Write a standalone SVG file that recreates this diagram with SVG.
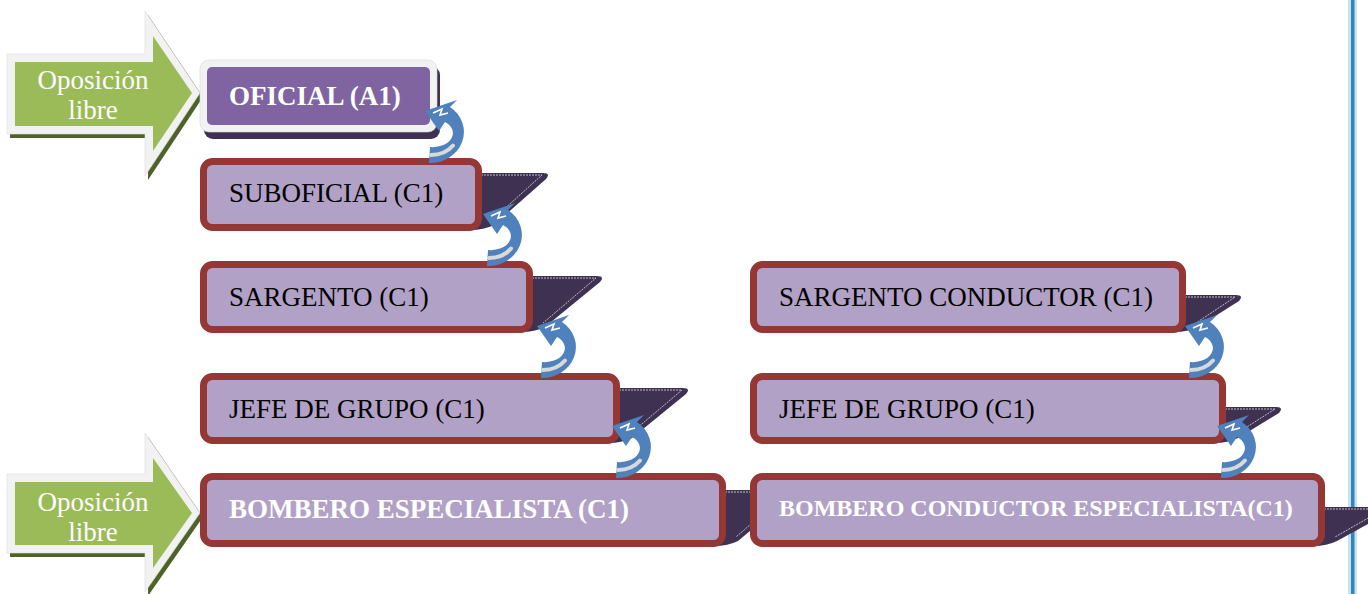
<svg xmlns="http://www.w3.org/2000/svg" xmlns:xlink="http://www.w3.org/1999/xlink" width="1368" height="594" viewBox="0 0 1368 594">
<style>
.bx{fill:#b2a1c7;stroke:#953735;stroke-width:7}
.rib{fill:#3f3151}
.ribl{fill:none;stroke:#ffffff;stroke-width:0.8;stroke-dasharray:2 1;opacity:0.85}
.t{font-family:"Liberation Serif","Times New Roman",serif;font-size:27px;fill:#000}
.tb{font-family:"Liberation Serif","Times New Roman",serif;font-size:27px;font-weight:bold;fill:#ffffff}
.ga{fill:#f2f2f2;stroke:#dcdcdc;stroke-width:0.6}
.gi{fill:#9bbb59}
.gs{fill:#4f6228}
.gt{font-family:"Liberation Serif","Times New Roman",serif;font-size:27px;fill:#ffffff;text-anchor:middle}
.curl{fill:#4f81bd}
.stripe{fill:none;stroke:#d9d9d9;stroke-width:4;stroke-linecap:round}
.hl{fill:none;stroke:#ffffff;stroke-width:1.6}
</style>
<defs>
<g id="curl">
<path class="curl" d="M 18 -26 L 25 -33 L -7 -22 L 7 -2 L 13 -11 A 20 14 0 0 1 -2 14 L -3 30 A 34 31 0 0 0 18 -26 Z"/>
<path class="stripe" d="M -1 22 A 27 22.5 0 0 0 21 12.5"/>
<path class="hl" d="M 1 -20 L 10 -24 L 8 -18 L 16 -20"/>
</g>
</defs>
<rect width="1368" height="594" fill="#ffffff"/>

<g id="blue-line">
<rect x="1348" y="0" width="9" height="594" fill="#bdd7ee" opacity="0.8"/>
<rect x="1351" y="0" width="3.5" height="594" fill="#2e86c1"/>
</g>

<g id="oposicion-top">
<path class="gs" d="M 10 58 L 148 58 L 148 15 L 203 97 L 148 180 L 148 138 L 10 138 Z"/>
<path class="ga" d="M 7 54 L 145 54 L 145 11 L 200 93 L 145 176 L 145 134 L 7 134 Z"/>
<path class="gi" d="M 15 62 L 153 62 L 153 36 L 192 93 L 153 151 L 153 126 L 15 126 Z"/>
<text class="gt" x="93" y="89">Oposición</text>
<text class="gt" x="93" y="119">libre</text>
</g>

<g id="oposicion-bottom">
<path class="gs" d="M 10 478 L 148 478 L 148 437 L 203 517 L 148 596 L 148 557 L 10 557 Z"/>
<path class="ga" d="M 7 474 L 145 474 L 145 433 L 200 513 L 145 592 L 145 553 L 7 553 Z"/>
<path class="gi" d="M 15 482 L 153 482 L 153 458 L 192 513 L 153 568 L 153 545 L 15 545 Z"/>
<text class="gt" x="93" y="511">Oposición</text>
<text class="gt" x="93" y="541">libre</text>
</g>

<g id="oficial">
<rect x="204" y="66" width="236" height="73" rx="9" fill="#3f3151"/>
<rect x="200" y="60" width="237" height="72" rx="9" fill="#f2f2f2" stroke="#d9d9d9" stroke-width="0.6"/>
<rect x="207" y="67" width="223" height="58" rx="5" fill="#8064a2"/>
<text class="tb" x="229" y="105">OFICIAL (A1)</text>
</g>

<g id="suboficial">
<path class="rib" d="M 470 173 L 543 173 Q 551 173 546 179 L 494 225 Q 484 230 470 230 Z"/>
<path class="ribl" d="M 481 175 L 542 175 L 491 221"/>
<rect class="bx" x="203.5" y="161.5" width="275" height="66" rx="9"/>
<text class="t" x="229" y="202">SUBOFICIAL (C1)</text>
</g>

<g id="sargento">
<path class="rib" d="M 521 276 L 597 276 Q 605 276 600 282 L 545 327 Q 535 332 521 332 Z"/>
<path class="ribl" d="M 532 278 L 596 278 L 543 323"/>
<rect class="bx" x="203.5" y="264.5" width="326" height="65" rx="9"/>
<text class="t" x="229" y="306">SARGENTO (C1)</text>
</g>

<g id="jefe-grupo-1">
<path class="rib" d="M 608 388 L 683 388 Q 691 388 686 394 L 632 438 Q 622 443 608 443 Z"/>
<path class="ribl" d="M 619 390 L 682 390 L 630 434"/>
<rect class="bx" x="203.5" y="376.5" width="413" height="64" rx="9"/>
<text class="t" x="229" y="418">JEFE DE GRUPO (C1)</text>
</g>

<g id="bombero-especialista">
<path class="rib" d="M 714 490 L 789 490 Q 797 490 792 496 L 738 541 Q 728 546 714 546 Z"/>
<path class="ribl" d="M 725 492 L 788 492 L 736 537"/>
<rect class="bx" x="203.5" y="476.5" width="519" height="67" rx="9"/>
<text class="tb" x="229" y="518">BOMBERO ESPECIALISTA (C1)</text>
</g>

<g id="sargento-conductor">
<path class="rib" d="M 1174 295 L 1236 295 Q 1244 295 1239 301 L 1198 327 Q 1188 332 1174 332 Z"/>
<path class="ribl" d="M 1185 297 L 1235 297 L 1196 323"/>
<rect class="bx" x="753.5" y="264.5" width="429" height="65" rx="9"/>
<text class="t" x="779" y="306">SARGENTO CONDUCTOR (C1)</text>
</g>

<g id="jefe-grupo-2">
<path class="rib" d="M 1214 407 L 1276 407 Q 1284 407 1279 413 L 1238 438 Q 1228 443 1214 443 Z"/>
<path class="ribl" d="M 1225 409 L 1275 409 L 1236 434"/>
<rect class="bx" x="753.5" y="376.5" width="469" height="64" rx="9"/>
<text class="t" x="779" y="418">JEFE DE GRUPO (C1)</text>
</g>

<g id="bombero-conductor-especialista">
<path class="rib" d="M 1313 507 L 1385 507 Q 1393 507 1388 513 L 1337 541 Q 1327 546 1313 546 Z"/>
<path class="ribl" d="M 1324 509 L 1384 509 L 1335 537"/>
<rect class="bx" x="753.5" y="476.5" width="568" height="67" rx="9"/>
<text class="tb" x="779" y="516" style="font-size:24px">BOMBERO CONDUCTOR ESPECIALISTA(C1)</text>
</g>

<g id="connectors">
<use xlink:href="#curl" transform="translate(432,133)"/>
<use xlink:href="#curl" transform="translate(490,236)"/>
<use xlink:href="#curl" transform="translate(544,348)"/>
<use xlink:href="#curl" transform="translate(619,448)"/>
<use xlink:href="#curl" transform="translate(1192,348)"/>
<use xlink:href="#curl" transform="translate(1224,448)"/>
</g>
</svg>
